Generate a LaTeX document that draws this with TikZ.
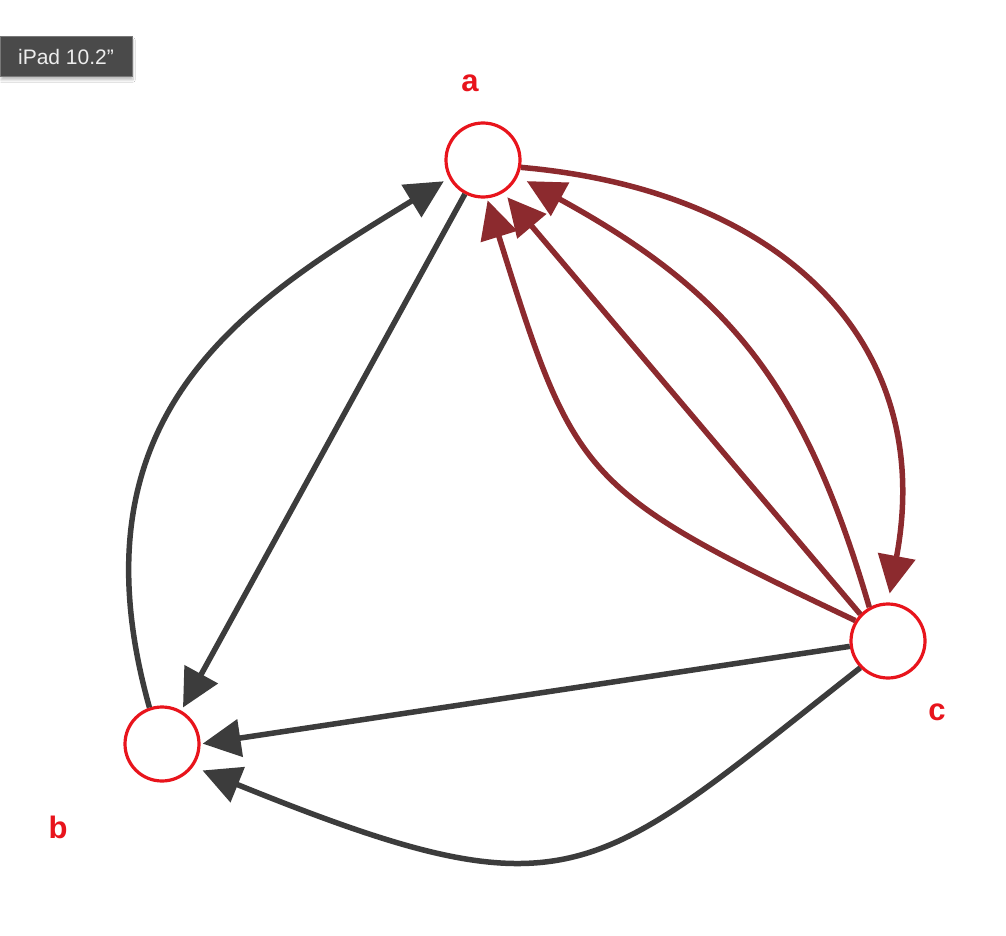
\documentclass[tikz,border=0pt]{standalone}
\usepackage{fontspec}
\setmainfont{Liberation Sans}
\usetikzlibrary{arrows.meta,shadows.blur}

\definecolor{nodered}{HTML}{E8141C}
\definecolor{edgedark}{HTML}{3C3C3C}
\definecolor{edgered}{HTML}{8C2A2E}
\definecolor{tagfill}{HTML}{4A4A4A}
\definecolor{tagline}{HTML}{787878}
\definecolor{tagtext}{HTML}{EDEDED}

\tikzset{
  vertex/.style={circle, draw=nodered, line width=3.2pt, minimum size=74pt, inner sep=0pt},
  vlabel/.style={text=nodered, inner sep=0pt, font=\fontsize{31}{31}\selectfont\bfseries},
  tag/.style={rectangle, fill=tagfill, draw=tagline, line width=1pt, text=tagtext,
    minimum width=132pt, minimum height=40pt, inner sep=0pt,
    font=\fontsize{21}{21}\selectfont,
    blur shadow={shadow xshift=1pt, shadow yshift=-3pt, shadow blur steps=8, shadow opacity=25}},
  tipstyle/.style={-{Triangle[length=38pt,width=37pt]}},
  darkedge/.style={draw=edgedark, line width=5.5pt, tipstyle},
  rededge/.style={draw=edgered, line width=5.5pt, tipstyle},
}

\begin{document}
\begin{tikzpicture}[x=1pt,y=-1pt]
  \useasboundingbox (0,0) rectangle (1006,936);
  \fill[white] (0,0) rectangle (1006,936);

  % device tag
  \node[tag] (device) at (66,57) {iPad 10.2”};

  % vertices
  \node[vertex] (a) at (483,160) {};
  \node[vertex] (b) at (162,744) {};
  \node[vertex] (c) at (888,641) {};

  % vertex names
  \node[vlabel] (la) at (470,83) {a};
  \node[vlabel] (lb) at (58,827) {b};
  \node[vlabel] (lc) at (937,712) {c};

  % grey edges
  \draw[darkedge, shorten >=6pt] (b.109) .. controls (66,410) and (250,300) .. (a.-152);
  \draw[darkedge, shorten >=3.5pt] (a.-118) -- (b.60);
  \draw[darkedge, shorten >=2pt] (c.-172) -- (b.0);
  \draw[darkedge, shorten >=10pt] (c.-136) .. controls (590,880) and (574,921) .. (b.-36);

  % red edges
  \draw[rededge, shorten >=9pt] (a.-11) .. controls (780,190) and (937,341) .. (c.90);
  \draw[rededge, shorten >=10pt] (c.119) .. controls (804,384) and (729,292) .. (a.-25);
  \draw[rededge, shorten >=6pt] (c.136) -- (a.-58);
  \draw[rededge, shorten >=2pt] (c.148) .. controls (580,490) and (575,480) .. (a.-84);
\end{tikzpicture}
\end{document}
